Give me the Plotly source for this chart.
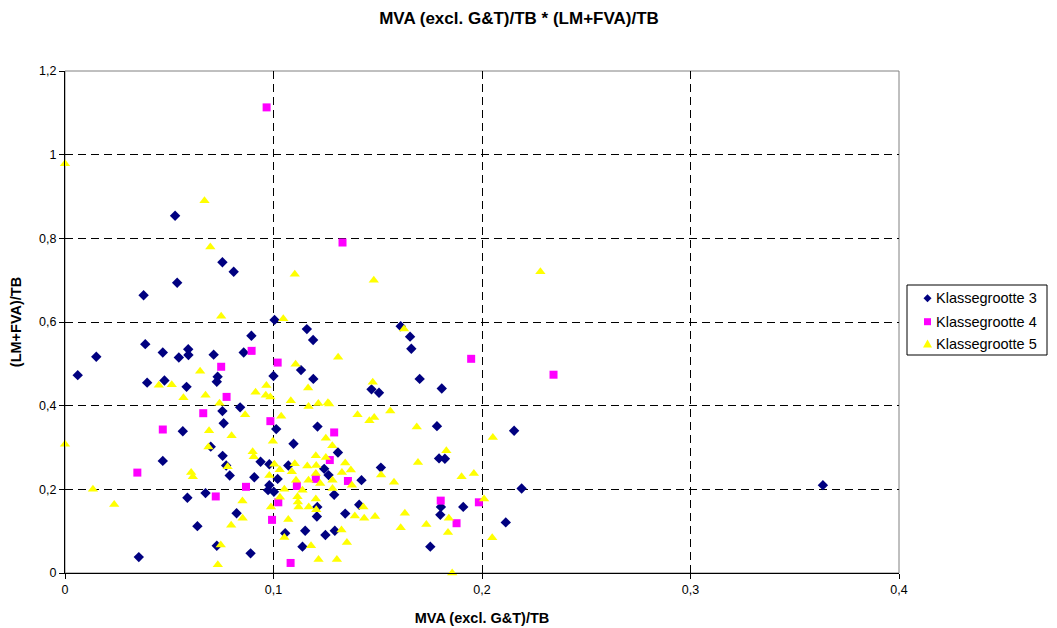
import plotly.graph_objects as go

# Klassegrootte 3 (navy diamonds)
k3_x = [0.0528, 0.0755, 0.0809, 0.0538, 0.0377, 0.1005, 0.116, 0.119, 0.0385, 0.0150,
        0.0469, 0.0591, 0.0592, 0.0546, 0.0713, 0.0857, 0.0894, 0.0061, 0.0394, 0.0477,
        0.0583, 0.0732, 0.0728, 0.1000, 0.1132, 0.1191, 0.0840, 0.0755, 0.0761, 0.1013,
        0.0565, 0.1211, 0.1096, 0.0699, 0.0469, 0.0756, 0.0773, 0.0790, 0.0938, 0.0980,
        0.1071, 0.0908, 0.1020, 0.0980, 0.0974, 0.1002, 0.0587, 0.0674, 0.0823, 0.0635,
        0.1056, 0.1152, 0.0728, 0.1139, 0.1210, 0.0354, 0.0890, 0.161, 0.1655, 0.1661,
        0.147, 0.1506, 0.1701, 0.1807, 0.1309, 0.1784, 0.2154, 0.1794, 0.1822, 0.1243,
        0.1264, 0.1515, 0.1422, 0.1291, 0.219, 0.1411, 0.1803, 0.191, 0.180, 0.1208,
        0.1344, 0.1294, 0.1249, 0.1752, 0.2114, 0.3635]
k3_y = [0.854, 0.743, 0.720, 0.694, 0.664, 0.605, 0.583, 0.557, 0.547, 0.517,
        0.527, 0.535, 0.521, 0.515, 0.522, 0.527, 0.567, 0.473, 0.455, 0.460,
        0.445, 0.469, 0.457, 0.471, 0.485, 0.464, 0.396, 0.387, 0.358, 0.344,
        0.339, 0.350, 0.309, 0.302, 0.268, 0.280, 0.257, 0.233, 0.266, 0.260,
        0.257, 0.229, 0.225, 0.210, 0.198, 0.194, 0.180, 0.191, 0.143, 0.112,
        0.095, 0.101, 0.065, 0.063, 0.158, 0.038, 0.047, 0.590, 0.565, 0.536,
        0.439, 0.431, 0.464, 0.441, 0.288, 0.351, 0.340, 0.274, 0.273, 0.249,
        0.234, 0.252, 0.222, 0.187, 0.202, 0.163, 0.158, 0.158, 0.139, 0.135,
        0.142, 0.101, 0.091, 0.063, 0.121, 0.210]

# Klassegrootte 4 (magenta squares)
k4_x = [0.0967, 0.1331, 0.0895, 0.0749, 0.102, 0.0775, 0.0663, 0.0469, 0.0985, 0.0347,
        0.0868, 0.0723, 0.1023, 0.1112, 0.0993, 0.1082, 0.1203, 0.1291, 0.127, 0.1357,
        0.1948, 0.2343, 0.1802, 0.1985, 0.1878]
k4_y = [1.113, 0.790, 0.531, 0.493, 0.503, 0.421, 0.382, 0.343, 0.363, 0.240,
        0.206, 0.183, 0.169, 0.208, 0.127, 0.024, 0.225, 0.336, 0.270, 0.220,
        0.512, 0.474, 0.173, 0.169, 0.119]

# Klassegrootte 5 (yellow triangles)
k5_x = [0.0, 0.0669, 0.0697, 0.1102, 0.0749, 0.1047, 0.1481, 0.228, 0.1626, 0.131,
        0.0648, 0.1106, 0.045, 0.0512, 0.0568, 0.0674, 0.0914, 0.0966, 0.0963, 0.0985,
        0.0741, 0.1083, 0.1166, 0.1168, 0.1215, 0.1261, 0.1267, 0.1476, 0.0864, 0.1037,
        0.1403, 0.146, 0.1483, 0.156, 0.1687, 0.0691, 0.0799, 0.0, 0.0997, 0.0688,
        0.09, 0.0905, 0.1251, 0.1282, 0.1829, 0.2052, 0.078, 0.0605, 0.0613, 0.098,
        0.1004, 0.103, 0.1088, 0.1102, 0.1108, 0.1162, 0.1203, 0.1205, 0.1168, 0.1203,
        0.1251, 0.1344, 0.1371, 0.1328, 0.1693, 0.1516, 0.1578, 0.1902, 0.1961, 0.1224,
        0.1283, 0.1376, 0.1283, 0.0134, 0.0236, 0.0851, 0.0852, 0.0797, 0.0988, 0.1052,
        0.1031, 0.1115, 0.1117, 0.112, 0.1071, 0.1139, 0.1169, 0.1203, 0.1205, 0.1431,
        0.201, 0.139, 0.1435, 0.1487, 0.163, 0.1841, 0.161, 0.1733, 0.1837, 0.1326,
        0.1052, 0.1352, 0.118, 0.2049, 0.1216, 0.1304, 0.1857, 0.0747, 0.0733]
k5_y = [0.978, 0.890, 0.779, 0.714, 0.614, 0.608, 0.700, 0.720, 0.583, 0.516,
        0.482, 0.499, 0.449, 0.450, 0.419, 0.425, 0.432, 0.448, 0.425, 0.421,
        0.406, 0.412, 0.442, 0.398, 0.405, 0.407, 0.404, 0.456, 0.378, 0.375,
        0.378, 0.364, 0.372, 0.387, 0.349, 0.340, 0.328, 0.308, 0.315, 0.301,
        0.290, 0.278, 0.322, 0.304, 0.292, 0.324, 0.254, 0.240, 0.230, 0.233,
        0.260, 0.247, 0.242, 0.261, 0.222, 0.256, 0.280, 0.257, 0.222, 0.238,
        0.276, 0.263, 0.246, 0.240, 0.264, 0.234, 0.217, 0.230, 0.238, 0.214,
        0.222, 0.210, 0.202, 0.200, 0.164, 0.172, 0.131, 0.114, 0.158, 0.200,
        0.181, 0.182, 0.170, 0.158, 0.128, 0.198, 0.158, 0.177, 0.151, 0.158,
        0.177, 0.136, 0.131, 0.135, 0.143, 0.131, 0.108, 0.116, 0.097, 0.103,
        0.085, 0.073, 0.065, 0.084, 0.032, 0.032, 0.0, 0.067, 0.020]

series_names = ["Klassegrootte 3", "Klassegrootte 4", "Klassegrootte 5"]
series_colors = ["#000080", "#FF00FF", "#FFFF00"]

x_ticks = [0, 0.1, 0.2, 0.3, 0.4]
x_tick_labels = ["0", "0,1", "0,2", "0,3", "0,4"]
y_ticks = [0, 0.2, 0.4, 0.6, 0.8, 1.0, 1.2]
y_tick_labels = ["0", "0,2", "0,4", "0,6", "0,8", "1", "1,2"]

FONT = "Liberation Sans, Arial, sans-serif"

# plot-area geometry in pixels (figure is 1057 x 628)
W, H = 1057, 628
ML, MR, MT, MB = 65, 158, 71, 55
PW, PH = W - ML - MR, H - MT - MB


def px_x(p):
    return (p - ML) / PW


def px_y(p):
    return (H - MB - p) / PH


fig = go.Figure()
fig.add_trace(go.Scatter(x=k3_x, y=k3_y, mode="markers", name=series_names[0],
                         cliponaxis=False,
                         marker=dict(symbol="diamond", size=8, color=series_colors[0],
                                     line=dict(width=0))))
fig.add_trace(go.Scatter(x=k4_x, y=k4_y, mode="markers", name=series_names[1],
                         cliponaxis=False,
                         marker=dict(symbol="square", size=8, color=series_colors[1],
                                     line=dict(width=0))))
fig.add_trace(go.Scatter(x=k5_x, y=k5_y, mode="markers", name=series_names[2],
                         cliponaxis=False,
                         marker=dict(symbol="triangle-up", size=9, color=series_colors[2],
                                     line=dict(width=0))))

# Manual legend (Excel-style box)
legend_rows = [298.3, 321.7, 344.0]
marker_paths = ["M 0,-4 L 4,0 L 0,4 L -4,0 Z",
                "M -3.5,-3.5 L 3.5,-3.5 L 3.5,3.5 L -3.5,3.5 Z",
                "M -4.5,-3.5 L 4.5,-3.5 L 0,4.5 Z"]
shapes = [
    dict(type="rect", xref="paper", yref="paper", x0=0, x1=1, y0=0, y1=1,
         line=dict(color="#808080", width=1), layer="below"),
    dict(type="rect", xref="paper", yref="paper",
         x0=px_x(907), x1=px_x(1047), y0=px_y(355), y1=px_y(285),
         line=dict(color="black", width=1), fillcolor="white"),
]
annotations = []
for name, color, row, path in zip(series_names, series_colors, legend_rows, marker_paths):
    shapes.append(dict(type="path", xref="paper", yref="paper",
                       xsizemode="pixel", ysizemode="pixel",
                       xanchor=px_x(927.5), yanchor=px_y(row),
                       path=path, fillcolor=color, line=dict(width=0)))
    annotations.append(dict(text=name, xref="paper", yref="paper",
                            x=px_x(934), y=px_y(row), xanchor="left", yanchor="middle",
                            showarrow=False,
                            font=dict(family=FONT, size=14.5, color="black")))

fig.update_layout(
    width=W, height=H,
    margin=dict(l=ML, r=MR, t=MT, b=MB, autoexpand=False),
    paper_bgcolor="white", plot_bgcolor="white",
    font=dict(family=FONT, size=12.5, color="black"),
    title=dict(text="<b>MVA (excl. G&T)/TB * (LM+FVA)/TB</b>",
               x=519 / W, xanchor="center", xref="container",
               y=1 - 18 / H, yanchor="middle", yref="container",
               font=dict(family=FONT, size=17, color="black")),
    showlegend=False,
    shapes=shapes,
    annotations=annotations,
)

fig.update_xaxes(range=[0, 0.4], tickvals=x_ticks, ticktext=x_tick_labels,
                 showgrid=True, gridcolor="black", gridwidth=1, griddash="8px,5px",
                 showline=True, linecolor="black", linewidth=1,
                 ticks="outside", ticklen=5, tickcolor="black",
                 zeroline=False, automargin=False,
                 tickfont=dict(family=FONT, size=12.5, color="black"),
                 title=dict(text="<b>MVA (excl. G&T)/TB</b>", standoff=16,
                            font=dict(family=FONT, size=14.5, color="black")))
fig.update_yaxes(range=[0, 1.2], tickvals=y_ticks, ticktext=y_tick_labels,
                 showgrid=True, gridcolor="black", gridwidth=1, griddash="8px,5px",
                 showline=True, linecolor="black", linewidth=1,
                 ticks="outside", ticklen=5, tickcolor="black",
                 zeroline=False, automargin=False,
                 tickfont=dict(family=FONT, size=12.5, color="black"),
                 title=dict(text="<b>(LM+FVA)/TB</b>", standoff=14,
                            font=dict(family=FONT, size=14.5, color="black")))

fig.write_html("out.html")
